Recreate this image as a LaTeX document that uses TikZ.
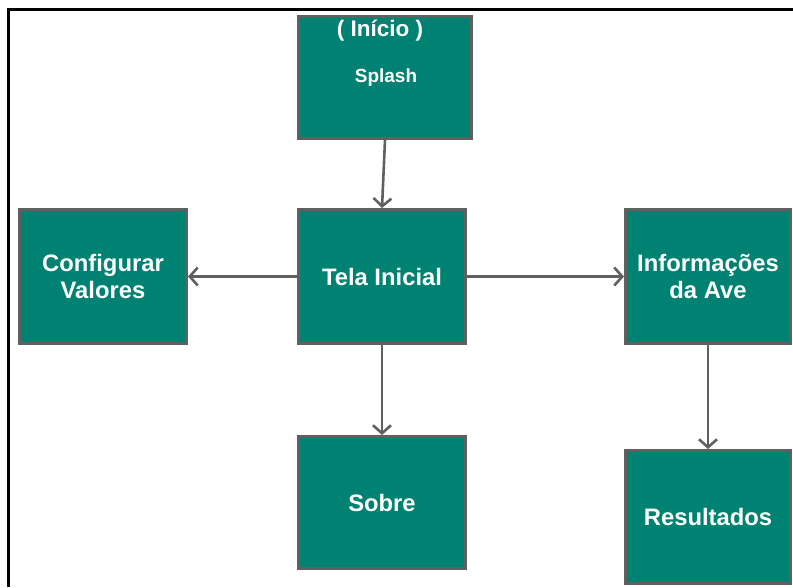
\documentclass[tikz,border=0pt]{standalone}
\usepackage{fontspec}
\setmainfont{Liberation Sans}
\usetikzlibrary{arrows.meta}
\definecolor{caixa}{RGB}{0,130,114}
\definecolor{borda}{RGB}{96,96,96}
\definecolor{seta}{RGB}{96,96,96}

\begin{document}
\begin{tikzpicture}[x=1pt,y=-1pt,line join=miter,
  tela/.style={draw=borda,fill=caixa,line width=3pt,minimum width=167pt,minimum height=134pt,inner sep=0pt,text=white,font=\fontsize{23.8}{27}\selectfont\bfseries,align=center},
  liga/.style={draw=seta,line width=2.6pt,-{Straight Barb[length=8pt,width=18pt]}}]
\useasboundingbox (0,0) rectangle (793,587);
%moldura
\draw[line width=3pt] (8,587) -- (8,9) -- (793,9);

%caixas
\node[tela,minimum width=173pt,minimum height=122pt] (splash) at (385,77.5) {};
\node[text=white,font=\fontsize{22.5}{26}\selectfont\bfseries,inner sep=0pt] (inicio) at (380,31) {( Início )};
\node[text=white,font=\fontsize{19}{22}\selectfont\bfseries,inner sep=0pt] (splashTxt) at (386,78) {Splash};
\node[tela] (telaInicial) at (382,276.5) {Tela Inicial};
\node[tela] (config) at (103,276.5) {Configurar\\Valores};
\node[tela,minimum width=165pt] (info) at (708,276.5) {Informações\\da Ave};
\node[tela,minimum height=132pt] (sobre) at (382,502.5) {Sobre};
\node[tela,minimum width=165pt,minimum height=133pt] (resultados) at (708,517) {Resultados};

%setas
\draw[liga] (splash.south) -- (telaInicial.north);
\draw[liga] (telaInicial.west) -- (config.east);
\draw[liga] (telaInicial.east) -- (info.west);
\draw[liga] (telaInicial.south) -- (sobre.north);
\draw[liga] (info.south) -- (resultados.north);
\end{tikzpicture}
\end{document}
